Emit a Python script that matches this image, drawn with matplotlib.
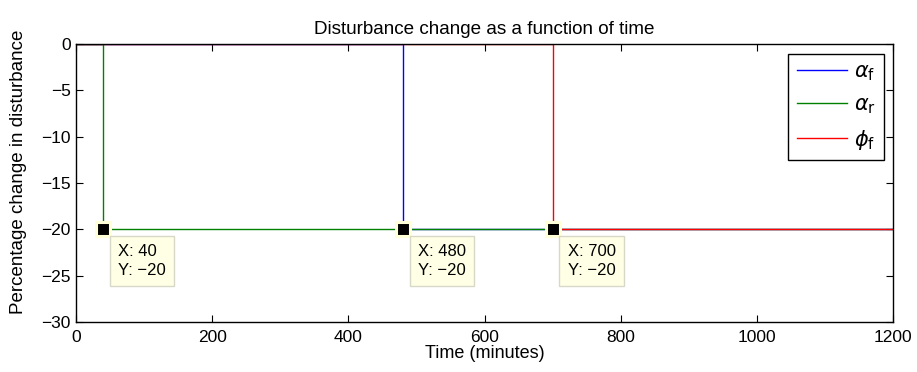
import numpy as np
import matplotlib
matplotlib.use("Agg")
import matplotlib.pyplot as plt

plt.rcParams['font.family'] = ['Liberation Sans', 'DejaVu Sans']
plt.rcParams['mathtext.fontset'] = 'dejavusans'

# data: each disturbance steps from 0 to -20 % at a given time (minutes)
labels = [r'$\alpha_\mathrm{f}$', r'$\alpha_\mathrm{r}$', r'$\phi_\mathrm{f}$']
colors = ['#0000ff', '#008000', '#ff0000']
step_times = [480, 40, 700]
step_size = -20
t_end = 1200
# data tips shown on the chart
tip_x = [40, 480, 700]
tip_y = [-20, -20, -20]

fig = plt.figure(figsize=(9.17, 3.72), dpi=100)
ax = fig.add_axes([0.083, 0.134, 0.891, 0.748])

for lab, c, ts in zip(labels, colors, step_times):
    t = np.array([0, ts, ts, t_end])
    v = np.array([0, 0, step_size, step_size])
    ax.plot(t, v, color=c, lw=1.0, label=lab, snap=True)

for x, y in zip(tip_x, tip_y):
    ax.plot([x], [y], 's', ms=9.6, mfc='black', mec='#ffffd8', mew=2.2,
            zorder=5, clip_on=False)
    ax.annotate('X: %d\nY: \u2212%d' % (x, -y), xy=(x, y),
                xytext=(15, -15), textcoords='offset pixels',
                ha='left', va='top', fontsize=12, linespacing=1.3,
                bbox=dict(boxstyle='square,pad=0.5', fc='#ffffe6',
                          ec='#d8d8c8', lw=1.0), zorder=6)

ax.set_xlim(0, 1200)
ax.set_ylim(-30, 0)
ax.set_xticks(np.arange(0, 1201, 200))
ax.set_yticks(np.arange(-30, 1, 5))
ax.set_yticklabels(['\u2212%d' % -v if v < 0 else '0' for v in range(-30, 1, 5)])
ax.tick_params(direction='in', top=True, right=True, length=5, width=0.8,
               labelsize=12.5, pad=4)
ax.tick_params(axis='x', pad=6)
for s in ax.spines.values():
    s.set_linewidth(1.0)

ax.set_title('Disturbance change as a function of time', fontsize=13.6, pad=7)
ax.set_xlabel('Time (minutes)', fontsize=13, labelpad=0)
ax.set_ylabel('Percentage change in disturbance', fontsize=13.5)
ax.yaxis.set_label_coords(-0.06, 0.54)

leg = ax.legend(loc='upper right', bbox_to_anchor=(0.989, 0.964),
                fontsize=15, fancybox=False, edgecolor='black', framealpha=1,
                handlelength=2.4, labelspacing=0.58, borderaxespad=0,
                handletextpad=0.35, borderpad=0.4)
leg.get_frame().set_linewidth(1.0)

fig.savefig('out.png', dpi=100)
